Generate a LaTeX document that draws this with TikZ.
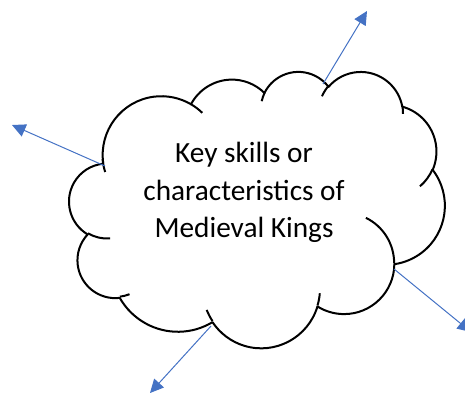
\documentclass[tikz,border=0pt]{standalone}
\usepackage{fontspec}
\setmainfont{Carlito}
\usetikzlibrary{arrows.meta}
\definecolor{arrowblue}{HTML}{4472C4}
\begin{document}
\begin{tikzpicture}[x=1pt,y=1pt,yscale=-1,
  declare function={vt(\a,\w,\h)=\a + mod(atan2(\w*sin(\a),\h*cos(\a)) - \a + 540, 360) - 180;},
  oa/.style n args={4}{start angle={vt(#3,#1,#2)}, end angle={vt(#3+#4,#1,#2)}, x radius=#1pt, y radius=#2pt},
  cloudline/.style={line width=2pt, line join=round, line cap=butt},
  conn/.style={draw=arrowblue, line width=1pt, -{Triangle[length=13.5pt,width=13pt]}},
  label/.style={align=center, font=\fontsize{29.3}{37.3}\selectfont}]
\useasboundingbox (0,0) rectangle (465,394);
\clip (0,0) rectangle (465,394);
\begin{scope}[shift={(69.3,71)}, xscale=0.869, yscale=0.6396]
  \draw[cloudline, fill=white] (39,143.70)
    arc[oa={67.53}{91.90}{-190.4875}{123.7805}]
    arc[oa={53.33}{72.67}{-144.1024}{89.9452}]
    arc[oa={43.65}{59.45}{-145.8079}{99.7230}]
    arc[oa={48.57}{65.95}{-130.9861}{117.2417}]
    arc[oa={53.33}{72.73}{-78.7089}{109.0269}]
    arc[oa={67.75}{92.20}{-46.2673}{130.2690}]
    arc[oa={57.85}{78.67}{0.6250}{114.0333}]
    arc[oa={67.52}{92.15}{22.4516}{115.1726}]
    arc[oa={77.20}{105.43}{66.2426}{75.7110}]
    arc[oa={43.60}{59.18}{-274.9421}{146.7356}]
    arc[oa={43.45}{59.45}{-246.8285}{152.5189}]
    -- cycle;
  \draw[cloudline] (46.93,261.77) arc[oa={43.45}{59.45}{86.7420}{26.4295}];
  \draw[cloudline] (69.28,348.99) arc[oa={43.60}{59.18}{73.6105}{11.4475}];
  \draw[cloudline] (164.78,390.90) arc[oa={67.52}{92.15}{137.6242}{14.0811}];
  \draw[cloudline] (288.27,347.51) arc[oa={67.52}{92.15}{6.4533}{15.9984}];
  \draw[cloudline] (341.29,229.54) arc[oa={57.85}{78.67}{-70.2924}{70.9174}];
  \draw[cloudline] (417.98,153.54) arc[oa={53.33}{72.73}{30.3180}{27.7515}];
  \draw[cloudline] (383.24,54.26) arc[oa={48.57}{65.95}{-13.7443}{14.8589}];
  \draw[cloudline] (290.78,39.52) arc[oa={48.57}{65.95}{-149.1815}{18.1954}];
  \draw[cloudline] (221.41,47.20) arc[oa={43.65}{59.45}{-163.4943}{17.6864}];
  \draw[cloudline] (140.00,51.92) arc[oa={67.53}{91.90}{-66.7070}{12.3194}];
  \draw[cloudline] (41.27,157.89) arc[oa={67.53}{91.90}{156.6194}{16.8748}];
\end{scope}
\node[label] (title) at (244,192.5) {Key skills or\\characteristics of\\Medieval Kings};
\coordinate (lS) at (105,166);
\coordinate (lE) at (12,125);
\coordinate (tS) at (323,84);
\coordinate (tE) at (367,11);
\coordinate (rS) at (394,269);
\coordinate (rE) at (471,332);
\coordinate (bS) at (211,326);
\coordinate (bE) at (150,393);
\draw[conn] (lS) -- (lE);
\draw[conn] (tS) -- (tE);
\draw[conn] (rS) -- (rE);
\draw[conn] (bS) -- (bE);
\end{tikzpicture}
\end{document}
